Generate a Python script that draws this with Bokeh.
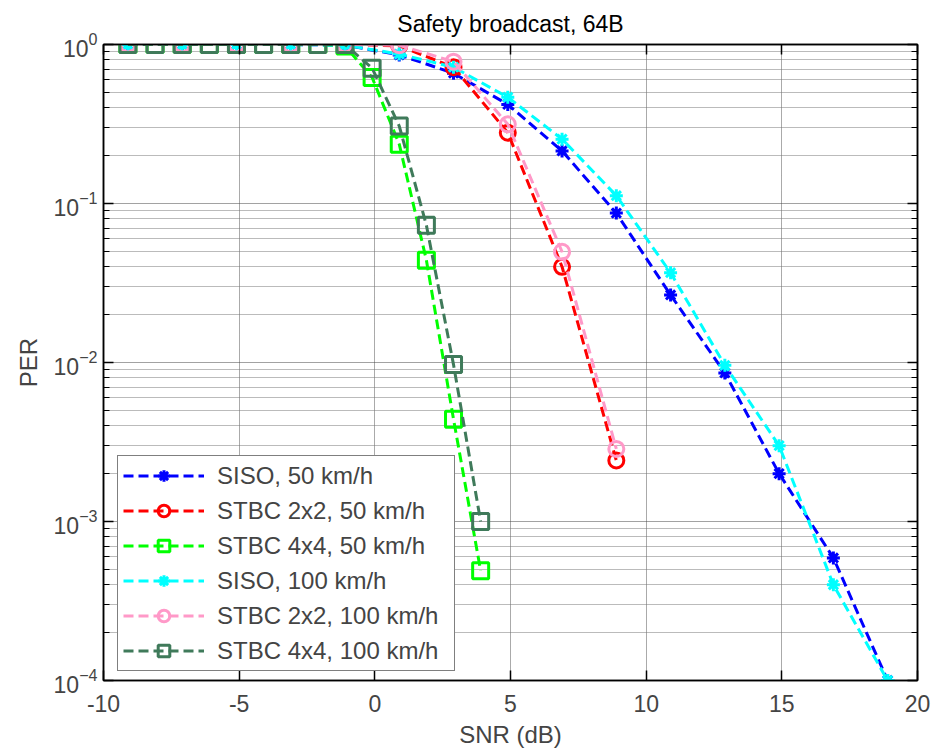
from bokeh.plotting import figure
from bokeh.models import (Range1d, LinearAxis, LogAxis, FixedTicker, SingleIntervalTicker,
                          CustomJSTickFormatter, LogTickFormatter, ColumnDataSource, Legend, LegendItem)
from bokeh.embed import file_html
from bokeh.resources import INLINE

# ---------------- data ----------------
snr_siso = [-9.1, -7.1, -5.1, -3.1, -1.1, 0.9, 2.9, 4.9, 6.9, 8.9, 10.9, 12.9, 14.9, 16.9, 18.9]
per_siso_50 = [1.0, 1.0, 1.0, 1.0, 0.99, 0.86, 0.66, 0.42, 0.214, 0.087, 0.0266, 0.0086, 0.0020, 0.00059, 0.0001]
per_siso_100 = [1.0, 1.0, 1.0, 1.0, 0.99, 0.87, 0.72, 0.466, 0.254, 0.112, 0.0367, 0.0096, 0.0030, 0.0004, 0.0001]

snr_stbc22 = [-9.1, -7.1, -5.1, -3.1, -1.1, 0.9, 2.9, 4.9, 6.9, 8.9]
per_stbc22_50 = [1.0, 1.0, 1.0, 1.0, 1.0, 0.98, 0.72, 0.279, 0.040, 0.00242]
per_stbc22_100 = [1.0, 1.0, 1.0, 1.0, 1.0, 0.99, 0.78, 0.315, 0.0497, 0.00286]

snr_stbc44 = [-9.1, -8.1, -7.1, -6.1, -5.1, -4.1, -3.1, -2.1, -1.1, -0.1, 0.9, 1.9, 2.9, 3.9]
per_stbc44_50 = [1.0, 1.0, 1.0, 1.0, 1.0, 1.0, 1.0, 1.0, 0.98, 0.62, 0.236, 0.044, 0.0044, 0.00049]
per_stbc44_100 = [1.0, 1.0, 1.0, 1.0, 1.0, 1.0, 1.0, 1.0, 1.0, 0.71, 0.307, 0.073, 0.0097, 0.0010]

x_limits = [-10, 20]
y_limits = [1e-4, 1.0]
x_tick_step = 5
y_exponents = [0, -1, -2, -3, -4]

title_text = "Safety broadcast, 64B"
x_label = "SNR (dB)"
y_label = "PER"

FONT = "Liberation Sans"

# ---------------- figure ----------------
p = figure(width=935, height=750,
           x_range=Range1d(*x_limits), y_range=Range1d(*y_limits),
           y_axis_type="log",
           output_backend="svg", toolbar_location=None,
           min_border_left=103, min_border_right=18, min_border_top=43, min_border_bottom=67)

p.background_fill_color = "white"
p.border_fill_color = "white"
p.outline_line_color = "black"
p.outline_line_width = 1.5

p.title.text = title_text
p.title.text_font = FONT
p.title.text_font_size = "23px"
p.title.text_font_style = "normal"
p.title.align = "center"
p.title.text_color = "black"
p.title.standoff = 16

decades = [10.0 ** e for e in y_exponents]
minors = [m * 10.0 ** e for e in range(min(y_exponents), max(y_exponents)) for m in range(2, 10)]
yticker = FixedTicker(ticks=decades, minor_ticks=minors)
xticker = SingleIntervalTicker(interval=x_tick_step, num_minor_ticks=0)

# bottom x axis
xa = p.xaxis[0]
xa.ticker = xticker
xa.formatter = CustomJSTickFormatter(code="return tick.toString()")
xa.axis_label = x_label
xa.axis_label_text_font = FONT
xa.axis_label_text_font_size = "24px"
xa.axis_label_text_font_style = "normal"
xa.axis_label_standoff = 6
xa.major_label_text_font = FONT
xa.major_label_text_font_size = "23px"
xa.major_label_standoff = 14
xa.major_tick_in = 10
xa.major_tick_out = 0
xa.minor_tick_line_color = None
xa.axis_line_width = 1.5
xa.major_tick_line_width = 1.5

# left y axis (log, 10^n labels)
ya = p.yaxis[0]
ya.ticker = yticker
ya.formatter = LogTickFormatter(min_exponent=0)
ya.axis_label = y_label
ya.axis_label_text_font = FONT
ya.axis_label_text_font_size = "24px"
ya.axis_label_text_font_style = "normal"
ya.axis_label_standoff = 9
ya.major_label_text_font = FONT
ya.major_label_text_font_size = "23px"
ya.major_label_standoff = 6
ya.major_tick_in = 10
ya.major_tick_out = 0
ya.minor_tick_in = 6
ya.minor_tick_out = 0
ya.axis_line_width = 1.5
ya.major_tick_line_width = 1.5

# top and right axes (ticks only, MATLAB box)
top = LinearAxis(ticker=xticker, major_label_text_font_size="2px", major_label_text_color=None,
                 major_label_standoff=0,
                 major_tick_in=10, major_tick_out=0, minor_tick_line_color=None,
                 axis_line_width=1.5, major_tick_line_width=1.5)
p.add_layout(top, "above")
right = LogAxis(ticker=yticker, major_label_text_font_size="2px", major_label_text_color=None,
                major_label_standoff=0,
                major_tick_in=10, major_tick_out=0, minor_tick_in=6, minor_tick_out=0,
                axis_line_width=1.5, major_tick_line_width=1.5)
p.add_layout(right, "right")

# grids
p.xgrid.grid_line_color = "#555555"
p.xgrid.grid_line_dash = "1 1"
p.xgrid.grid_line_width = 1
p.ygrid.grid_line_color = "#444444"
p.ygrid.grid_line_dash = "1 1"
p.ygrid.grid_line_width = 1
p.ygrid.minor_grid_line_color = "#777777"
p.ygrid.minor_grid_line_dash = "1 1"
p.ygrid.minor_grid_line_width = 1

# ---------------- series ----------------
DASH = "10 5"
series = [
    ("SISO, 50 km/h", snr_siso, per_siso_50, "#0000ff", "asterisk", 13),
    ("STBC 2x2, 50 km/h", snr_stbc22, per_stbc22_50, "#ff0000", "circle", 15),
    ("STBC 4x4, 50 km/h", snr_stbc44, per_stbc44_50, "#00ff00", "square", 16),
    ("SISO, 100 km/h", snr_siso, per_siso_100, "#00ffff", "asterisk", 13),
    ("STBC 2x2, 100 km/h", snr_stbc22, per_stbc22_100, "#ff99c8", "circle", 15),
    ("STBC 4x4, 100 km/h", snr_stbc44, per_stbc44_100, "#3f7a5a", "square", 16),
]

items = []
for label, xs, ys, color, marker, size in series:
    src = ColumnDataSource(dict(x=xs, y=ys))
    ln = p.line("x", "y", source=src, line_color=color, line_width=3, line_dash=DASH)
    sc = p.scatter("x", "y", source=src, marker=marker, size=size, line_color=color,
                   fill_color=None, line_width=3)
    items.append(LegendItem(label=label, renderers=[ln, sc]))

legend = Legend(items=items, location=(14, 9),
                label_text_font=FONT, label_text_font_size="24px",
                label_standoff=13, glyph_width=81, glyph_height=29, label_height=29,
                spacing=6, padding=5, margin=0, label_width=232,
                border_line_color="black", border_line_width=1.5,
                background_fill_color="white", background_fill_alpha=1)
p.add_layout(legend, "center")

open("out.html", "w").write(file_html(p, INLINE))
